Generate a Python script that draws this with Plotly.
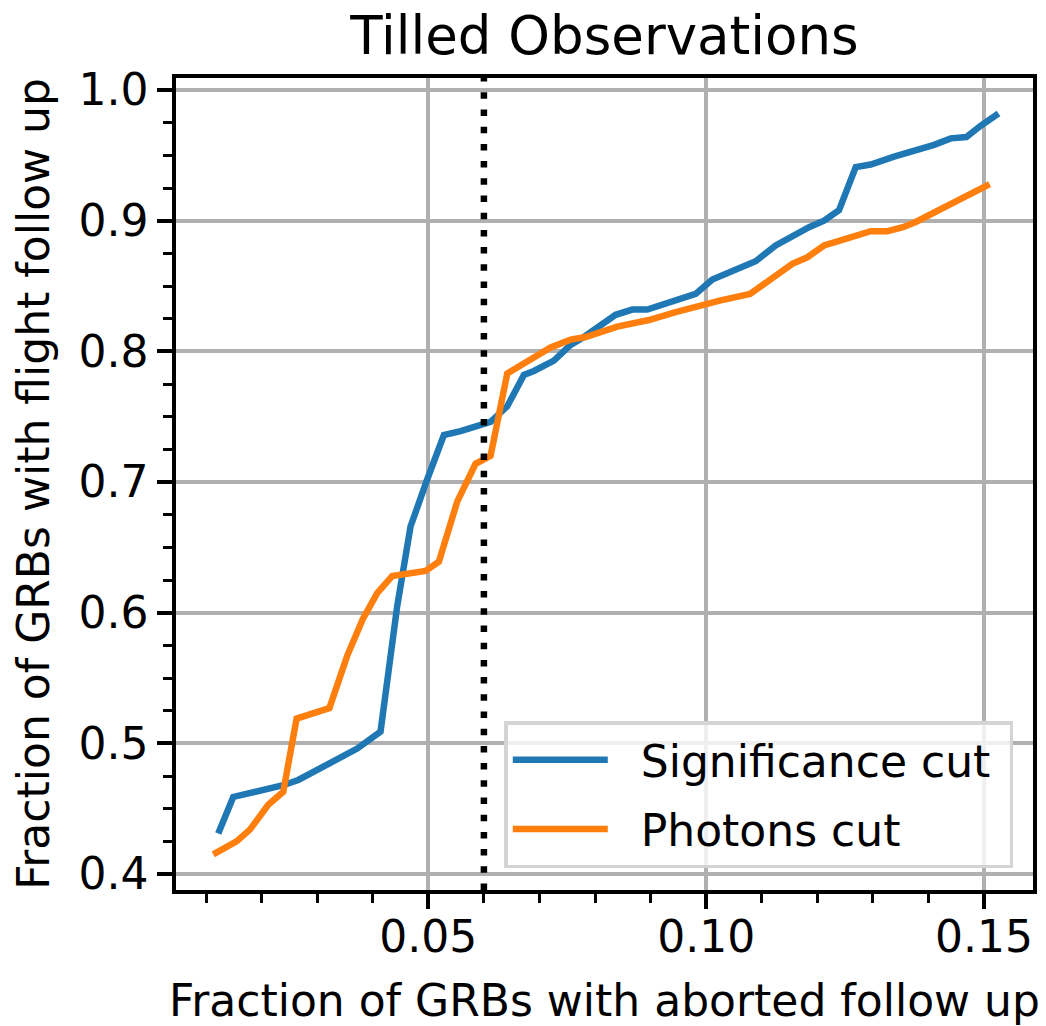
import plotly.graph_objects as go

# Significance cut curve
sig_x = [0.0122, 0.0149, 0.0239, 0.0266, 0.0372, 0.0414, 0.0444, 0.0468, 0.0498, 0.0528,
         0.0558, 0.0612, 0.0642, 0.0672, 0.0690, 0.0726, 0.0756, 0.0780, 0.0837, 0.0867,
         0.0894, 0.0918, 0.0951, 0.0981, 0.1011, 0.1038, 0.1089, 0.1125, 0.1158, 0.1185,
         0.1212, 0.1239, 0.1269, 0.1296, 0.1338, 0.1374, 0.1410, 0.1440, 0.1468, 0.1495,
         0.1526]
sig_y = [0.431, 0.459, 0.468, 0.472, 0.496, 0.509, 0.605, 0.666, 0.702, 0.736,
         0.739, 0.746, 0.758, 0.782, 0.785, 0.793, 0.805, 0.811, 0.828, 0.832,
         0.832, 0.835, 0.839, 0.844, 0.855, 0.860, 0.869, 0.881, 0.889, 0.895,
         0.900, 0.908, 0.941, 0.943, 0.949, 0.953, 0.958, 0.963, 0.964, 0.973,
         0.982]

# Photons cut curve
pho_x = [0.0113, 0.0155, 0.0179, 0.0212, 0.0239, 0.0263, 0.0322, 0.0354, 0.0382, 0.0408,
         0.0435, 0.0495, 0.0519, 0.0552, 0.0585, 0.0612, 0.0642, 0.0720, 0.0756, 0.0783,
         0.0840, 0.0870, 0.0897, 0.0945, 0.0978, 0.1026, 0.1079, 0.1122, 0.1155, 0.1182,
         0.1212, 0.1242, 0.1266, 0.1296, 0.1326, 0.1354, 0.1377, 0.1399, 0.1435, 0.1510]
pho_y = [0.415, 0.425, 0.434, 0.453, 0.463, 0.519, 0.527, 0.567, 0.595, 0.615,
         0.628, 0.632, 0.639, 0.685, 0.714, 0.720, 0.783, 0.803, 0.809, 0.811,
         0.819, 0.821, 0.824, 0.830, 0.834, 0.839, 0.844, 0.857, 0.867, 0.872,
         0.881, 0.885, 0.888, 0.892, 0.892, 0.895, 0.899, 0.904, 0.912, 0.928]

threshold_x = 0.06

x_ticks = [0.05, 0.10, 0.15]
x_tick_text = ["0.05", "0.10", "0.15"]
y_ticks = [0.4, 0.5, 0.6, 0.7, 0.8, 0.9, 1.0]
y_tick_text = ["0.4", "0.5", "0.6", "0.7", "0.8", "0.9", "1.0"]

FONT = "DejaVu Sans"
# the page body adds an 8px margin, so the figure is 8px smaller than the window
W, H = 1038, 1018

fig = go.Figure()
fig.add_trace(go.Scatter(x=sig_x, y=sig_y, mode="lines", name="&nbsp;&nbsp;Significance cut&nbsp;",
                         legendgroup="sig", line=dict(color="#1f77b4", width=6.5)))
fig.add_trace(go.Scatter(x=pho_x, y=pho_y, mode="lines", name="&nbsp;&nbsp;Photons cut",
                         legendgroup="pho", line=dict(color="#ff7f0e", width=6.5)))

# vertical dotted threshold line spanning the axes
fig.add_shape(type="line", xref="x", yref="y domain", x0=threshold_x, x1=threshold_x,
              y0=0, y1=1, line=dict(color="black", width=6.5, dash="6.5px,10.7px"))

axis_common = dict(
    showline=True, linecolor="black", linewidth=3.5, mirror=True,
    ticks="outside", ticklen=15, tickwidth=3.5, tickcolor="black",
    showgrid=True, gridcolor="#b0b0b0", gridwidth=3.5,
    zeroline=False, automargin=False,
    tickfont=dict(family=FONT, size=44, color="black"),
)

fig.update_xaxes(
    range=[0.0046, 0.1588], tickvals=x_ticks, ticktext=x_tick_text,
    ticklabelstandoff=-10,
    minor=dict(ticks="outside", ticklen=9, tickwidth=2.6, tickcolor="black", dtick=0.01, tick0=0, showgrid=False),
    title=dict(text="Fraction of GRBs with aborted follow up", standoff=26,
               font=dict(family=FONT, size=44, color="black")),
    **axis_common,
)
fig.update_yaxes(
    range=[0.3878, 1.0092], tickvals=y_ticks, ticktext=y_tick_text,
    minor=dict(ticks="outside", ticklen=9, tickwidth=2.6, tickcolor="black", dtick=0.025, tick0=0, showgrid=False),
    title=dict(text="Fraction of GRBs with flight follow up", standoff=16,
               font=dict(family=FONT, size=44, color="black")),
    **axis_common,
)

fig.update_layout(
    width=W, height=H,
    margin=dict(l=168, r=13, t=70, b=136),
    paper_bgcolor="white", plot_bgcolor="white",
    font=dict(family=FONT, size=44, color="black"),
    title=dict(text="Tilled Observations", x=0.5, xref="paper", xanchor="center",
               y=1 - 27 / H, yref="container", yanchor="middle",
               font=dict(family=FONT, size=53, color="black")),
    legend=dict(x=0.977, xanchor="right", y=0.027, yanchor="bottom",
                bgcolor="rgba(255,255,255,0.8)", bordercolor="#d4d4d4", borderwidth=3.5,
                font=dict(family=FONT, size=44, color="black"),
                itemwidth=95, tracegroupgap=9, traceorder="grouped"),
    showlegend=True,
)

fig.write_html("out.html")
